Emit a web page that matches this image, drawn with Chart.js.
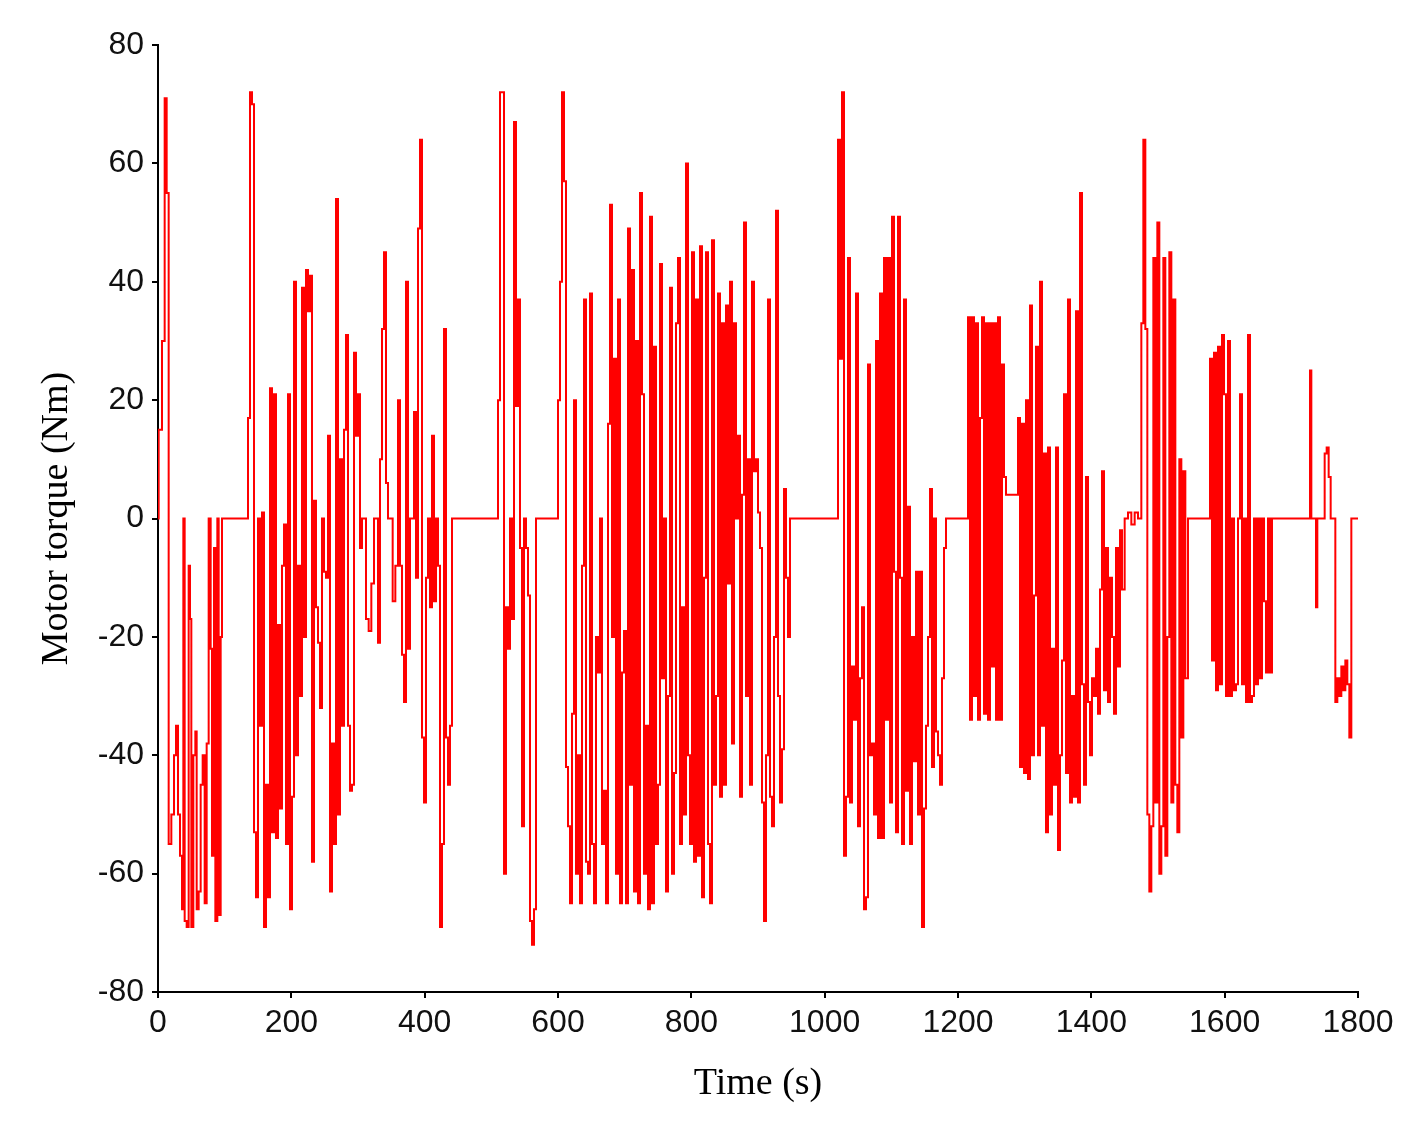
<!DOCTYPE html>
<html>
<head>
<meta charset="utf-8">
<script src="https://cdn.jsdelivr.net/npm/chart.js@4"></script>
<style>
  html, body { margin: 0; padding: 0; background: #fff; }
  #wrap { width: 1411px; height: 1129px; }
</style>
</head>
<body>
<div id="wrap"><canvas id="c" width="1411" height="1129"></canvas></div>
<script>
// time (s) of each step and motor torque (Nm) from that time on
const times = [0,1,6,10,13,16,20,24,27,30,33,36,38,40,43,46,48,50,53,56,58,61,64,67,70,73,76,79,81,84,86,89,91,94,96,
135,138,141,144,147,150,153,156,159,162,165,168,171,174,177,180,183,186,189,192,195,198,201,204,207,210,213,216,219,222,225,228,231,234,237,240,243,246,249,252,255,258,261,264,267,270,273,276,279,282,285,288,291,294,297,300,303,306,
312,316,320,324,330,333,336,339,342,345,352,356,360,363,366,369,372,375,378,384,387,390,393,396,399,402,405,408,411,414,417,420,423,426,429,432,435,438,441,
510,513,516,519,522,525,528,531,534,537,540,543,546,549,552,555,558,561,564,567,
600,603,606,609,612,615,618,621,624,627,630,633,636,639,642,645,648,651,654,657,660,663,666,669,672,675,678,681,684,687,690,693,696,699,702,705,708,711,714,717,720,723,726,729,732,735,738,741,744,747,750,753,756,759,762,765,768,771,774,777,780,783,786,789,792,795,798,801,804,807,810,813,816,819,822,825,828,831,834,837,840,843,846,849,852,855,858,861,864,867,870,873,876,879,882,885,888,891,894,897,900,903,906,909,912,915,918,921,924,927,930,933,936,939,942,945,948,
1020,1023,1026,1029,1032,1035,1038,1041,1044,1047,1050,1053,1056,1059,1062,1065,1068,1071,1074,1077,1080,1083,1086,1089,1092,1095,1098,1101,1104,1107,1110,1113,1116,1119,1122,1125,1128,1131,1134,1137,1140,1143,1146,1149,1152,1155,1158,1161,1164,1167,1170,1173,1176,1179,1182,
1215,1218,1221,1224,1227,1230,1233,1236,1239,1242,1245,1248,1251,1254,1257,1260,1263,1266,1269,1272,
1290,1293,1296,1299,1302,1305,1308,1311,1314,1317,1320,1323,1326,1329,1332,1335,1338,1341,1344,1347,1350,1353,1356,1359,1362,1365,1368,1371,1374,1377,1380,1383,1386,1389,1392,1395,1398,1401,1404,1407,1410,1413,1416,1419,1422,1425,1428,1431,1434,1437,1440,1443,1446,1450,
1455,1460,1465,1470,
1475,1478,1481,1484,1487,1490,1493,1496,1499,1502,1505,1508,1511,1514,1517,1520,1523,1526,1529,1532,1535,1538,1541,1545,
1578,1581,1584,1587,1590,1593,1596,1599,1602,1605,1608,1611,1614,1617,1620,1623,1626,1629,1632,1635,1638,1641,1644,1647,1650,1653,1656,1659,1662,1665,1668,1671,
1728,1730,1737,1739,1750,1753,1756,1759,1766,1769,1772,1775,1778,1781,1784,1787,1790,1800];

const torque = [0,15,30,71,55,-55,-50,-40,-35,-50,-57,-66,0,-68,-69,-8,-17,-69,-40,-36,-66,-63,-45,-40,-65,-38,0,-22,-57,-5,-68,0,-67,-20,0,
17,72,70,-53,-64,0,-35,1,-69,-45,-64,22,-53,21,-54,-18,-49,-8,-1,-55,21,-66,-47,40,-40,-8,-30,39,-20,42,35,41,-58,3,-15,-21,-32,0,-9,-10,14,-63,-38,-55,54,-50,10,-35,15,31,-35,-46,-45,28,14,21,-5,0,
-17,-19,-11,0,-21,10,32,45,6,0,-14,-8,20,-8,-23,-31,40,-22,0,18,-10,49,64,-37,-48,-10,0,-15,14,-14,0,-8,-69,-55,32,-37,-45,-35,0,
20,72,72,-60,-15,-22,0,-17,67,19,37,-5,-52,0,-5,-13,-68,-72,-66,0,
20,40,72,57,-42,-52,-65,-33,20,-60,-40,-65,-8,37,-58,-60,38,-55,-65,-20,-26,0,-55,-46,-65,16,53,-20,27,-60,37,-65,-26,-19,-65,49,-45,42,-63,30,-65,55,21,-60,-35,-66,51,-65,29,-55,-45,43,-27,0,-63,-30,39,-60,-43,33,44,-55,-15,-50,60,-40,-55,45,-58,37,-57,46,-64,-10,45,-55,-65,47,-45,-30,38,-47,33,-45,36,-11,40,-38,33,0,14,-47,4,50,-30,10,-45,40,8,10,1,-5,-48,-68,-40,37,-47,-52,-20,52,-30,-48,-39,5,-10,-20,0,
64,27,72,-57,-47,44,-48,-25,-34,38,-52,-27,-15,-66,-64,26,-40,-38,-50,30,-54,38,-54,44,-34,44,-48,51,-9,-53,51,-10,-55,37,-46,2,-55,-20,-41,-9,-50,-9,-69,-49,-35,-20,5,-42,0,-36,-40,-45,-27,-5,0,
34,-34,34,-30,33,-34,17,34,-33,33,-34,33,-25,33,-34,34,-34,26,7,4,
17,-42,16,-43,20,-44,36,-40,-13,29,-40,40,-35,11,-53,12,-50,-22,-45,12,-56,-40,-24,21,-43,37,-48,-30,-47,35,-48,55,-28,-45,7,-31,-40,-27,-30,-22,-33,-12,8,-29,-5,-31,-10,-20,-33,-5,-25,-2,-12,0,
1,-1,1,0,
33,64,32,-50,-63,-52,44,-48,50,-60,-52,44,-57,-20,45,-48,37,-45,-53,10,-37,8,-27,0,
27,-24,28,-29,29,-28,31,21,-30,30,-30,0,-29,-28,0,21,-28,0,-31,31,-31,-30,0,-28,0,-27,0,-14,-26,0,-26,0,
25,0,-15,0,11,12,7,0,-31,-27,-30,-25,-29,-24,-28,-37,0,0];

const points = times.map((t, i) => ({ x: t, y: torque[i] }));

const tickFont = { family: 'Liberation Sans, Arial, sans-serif', size: 32 };
const titleFont = { family: 'Liberation Serif, Times New Roman, serif', size: 38 };

new Chart(document.getElementById('c').getContext('2d'), {
    type: 'line',
    data: {
        datasets: [{
            data: points,
            stepped: true,
            borderColor: '#ff0000',
            borderWidth: 2,
            pointRadius: 0,
            fill: false
        }]
    },
    options: {
        responsive: false,
        animation: false,
        layout: { padding: { top: 45, right: 53, left: 30, bottom: 18 } },
        plugins: { legend: { display: false }, tooltip: { enabled: false } },
        scales: {
            x: {
                type: 'linear', min: 0, max: 1800,
                ticks: { stepSize: 200, color: '#111', font: tickFont, maxRotation: 0, padding: 6, callback: v => String(v) },
                grid: { drawOnChartArea: false, drawTicks: true, tickLength: 6, color: '#000', lineWidth: 2 },
                border: { color: '#000', width: 2 },
                title: { display: true, text: 'Time (s)', color: '#000', font: titleFont, padding: { top: 0 } },
                afterFit: s => { s.height = 119; }
            },
            y: {
                min: -80, max: 80,
                ticks: { stepSize: 20, color: '#111', font: tickFont, padding: 8, callback: v => String(v) },
                grid: { drawOnChartArea: false, drawTicks: true, tickLength: 6, color: '#000', lineWidth: 2 },
                border: { color: '#000', width: 2 },
                title: { display: true, text: 'Motor torque (Nm)', color: '#000', font: titleFont, padding: { bottom: 0 } },
                afterFit: s => { s.width = 128; }
            }
        }
    }
});
</script>
</body>
</html>
